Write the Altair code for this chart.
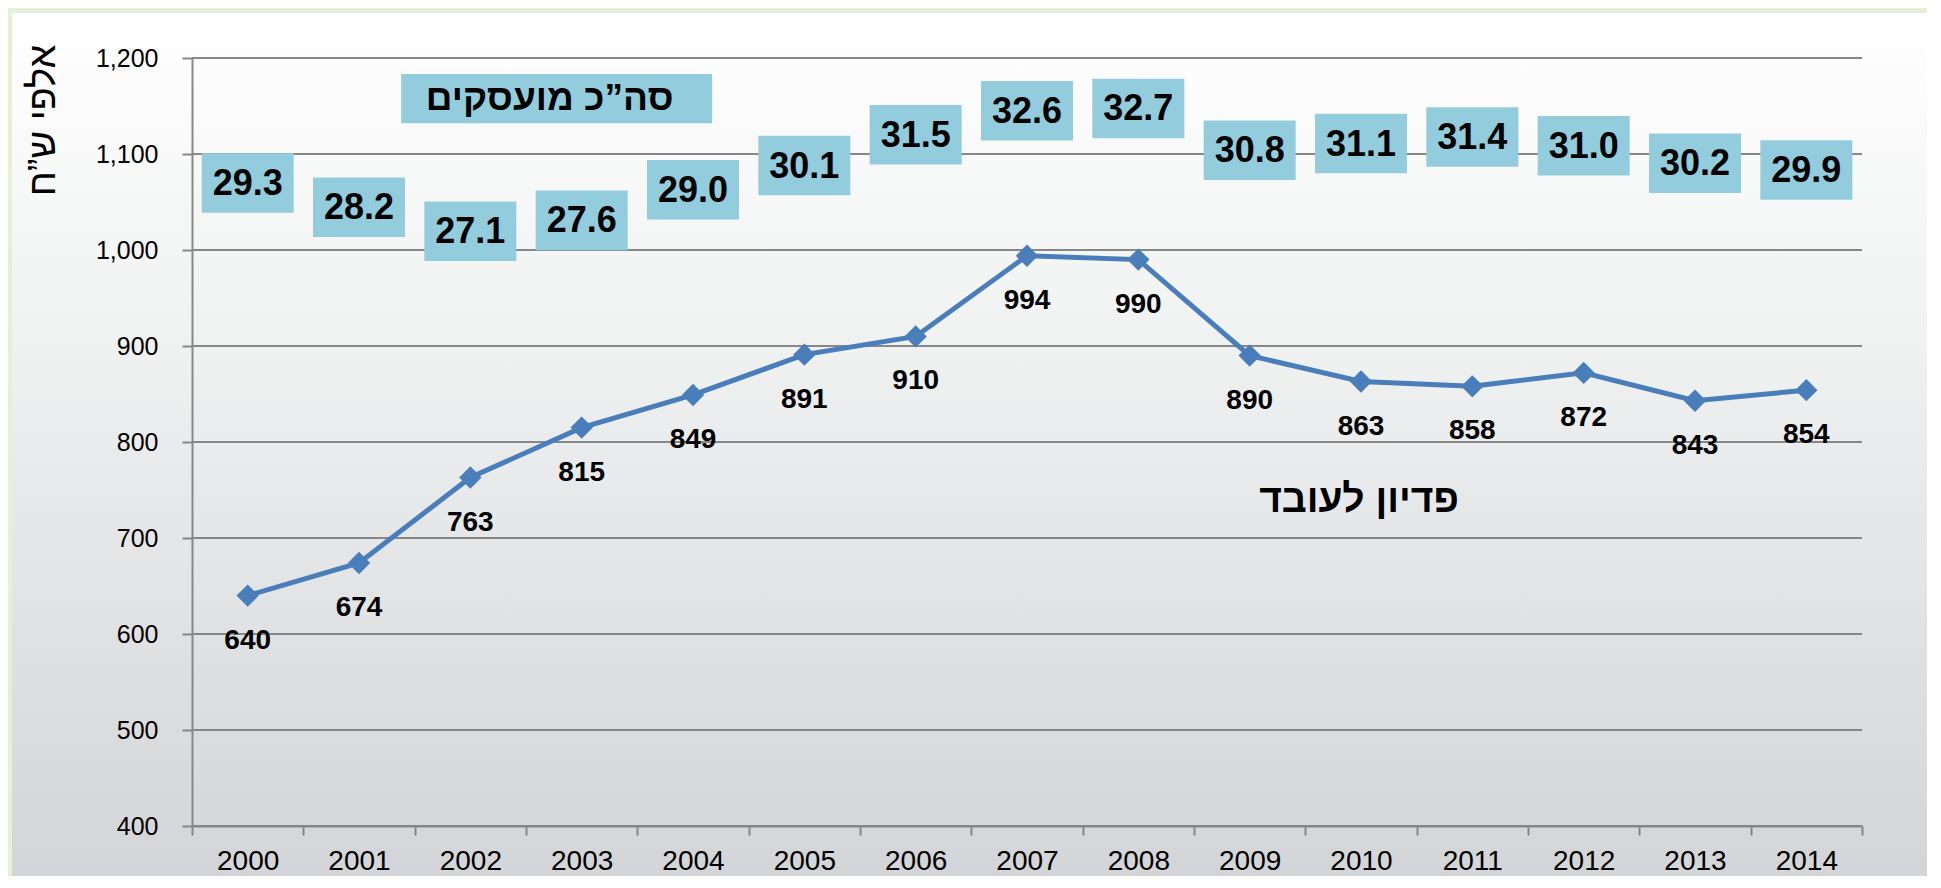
import altair as alt
import pandas as pd

# ---------------- data ----------------
years = [str(y) for y in range(2000, 2015)]
revenue_per_worker = [640, 674, 763, 815, 849, 891, 910, 994, 990, 890, 863, 858, 872, 843, 854]
total_employed = [29.3, 28.2, 27.1, 27.6, 29.0, 30.1, 31.5, 32.6, 32.7, 30.8, 31.1, 31.4, 31.0, 30.2, 29.9]
y_ticks = [400, 500, 600, 700, 800, 900, 1000, 1100, 1200]

y_title = "אלפי ש”ח"
employed_title = "סה”כ מועסקים"
revenue_title = "פדיון לעובד"

df = pd.DataFrame({
    "year": years,
    "revenue": revenue_per_worker,
    "employed": total_employed,
    "emp_label": [f"{v:.1f}" for v in total_employed],
})
grid_df = pd.DataFrame({"v": y_ticks})
emp_ann_df = pd.DataFrame({"year": ["2003"], "y": [1157.6], "text": [employed_title]})
rev_ann_df = pd.DataFrame({"year": ["2010"], "y": [742.7], "text": [revenue_title]})

# ---------------- layout ----------------
W, H = 1670, 768
FONT = "Liberation Sans"
BLUE = "#4a7ebb"
BOX = "#93cddd"
GRID = "#878787"

yscale = alt.Scale(domain=[400, 1200], nice=False, zero=False)
emp_scale = alt.Scale(domain=[0, 35], nice=False, zero=False)
xscale = alt.Scale(type="band", paddingInner=0, paddingOuter=0)

x_axis = alt.Axis(
    title=None, labelAngle=0, tickBand="extent", grid=False,
    labelFont=FONT, labelFontSize=28, labelColor="#000000", labelPadding=12,
    tickSize=9, tickColor=GRID, tickWidth=2, domainColor=GRID, domainWidth=2,
    zindex=1,
)
xenc = alt.X("year:N", sort=years, scale=xscale, axis=x_axis)

y_axis = alt.Axis(
    values=y_ticks, format=",.0f", grid=False,
    labelFont=FONT, labelFontSize=25, labelColor="#000000", labelPadding=24,
    tickSize=10, tickColor=GRID, tickWidth=2, domainColor=GRID, domainWidth=2,
    title=y_title, titleFont=FONT, titleFontSize=38, titleFontWeight="normal",
    titleColor="#000000", titleAngle=270, titleX=-149, titleY=62,
    titleAlign="center", titleBaseline="middle",
    zindex=1,
)

base = alt.Chart(df)

panel = alt.Chart(pd.DataFrame({"p": [0]})).mark_rect(
    color=alt.LinearGradient(
        gradient="linear",
        stops=[alt.GradientStop(color="#ffffff", offset=0),
               alt.GradientStop(color="#f1f2f2", offset=0.35),
               alt.GradientStop(color="#d3d4d7", offset=1)],
        x1=0, x2=0, y1=0, y2=1,
    )
).encode(
    x=alt.value(-180), x2=alt.value(W + 70),
    y=alt.value(-45), y2=alt.value(H + 60),
)

grid = alt.Chart(grid_df).mark_rule(color=GRID, strokeWidth=2).encode(
    y=alt.Y("v:Q", scale=yscale, axis=None)
)

line = base.mark_line(color=BLUE, strokeWidth=5).encode(
    x=xenc, y=alt.Y("revenue:Q", scale=yscale, axis=y_axis)
)
points = base.mark_point(shape="diamond", size=500, filled=True, opacity=1, color=BLUE).encode(
    x=xenc, y=alt.Y("revenue:Q", scale=yscale, axis=None)
)
rev_labels = base.mark_text(
    dy=45, font=FONT, fontSize=28, fontWeight="bold", color="#000000", baseline="middle"
).encode(
    x=xenc, y=alt.Y("revenue:Q", scale=yscale, axis=None), text="revenue:Q"
)

box_path = "M-1,-0.647H1V0.647H-1Z"
boxes = base.mark_point(shape=box_path, size=92 * 92, filled=True, opacity=1,
                        color=BOX, strokeWidth=0).encode(
    x=xenc, y=alt.Y("employed:Q", scale=emp_scale, axis=None)
)
box_text = base.mark_text(
    font=FONT, fontSize=36, fontWeight="bold", color="#000000", baseline="middle", dy=1
).encode(
    x=xenc, y=alt.Y("employed:Q", scale=emp_scale, axis=None), text="emp_label:N"
)

ann_box = alt.Chart(emp_ann_df).mark_point(
    shape="M-1,-0.1585H1V0.1585H-1Z", size=311 * 311, filled=True, opacity=1,
    color=BOX, strokeWidth=0, xOffset=-25,
).encode(x=xenc, y=alt.Y("y:Q", scale=yscale, axis=None))
emp_ann_text = alt.Chart(emp_ann_df).mark_text(
    font=FONT, fontSize=37, fontWeight="bold", color="#000000", baseline="middle", dx=-32,
).encode(x=xenc, y=alt.Y("y:Q", scale=yscale, axis=None), text="text:N")
rev_ann_text = alt.Chart(rev_ann_df).mark_text(
    font=FONT, fontSize=39, fontWeight="bold", color="#000000", baseline="middle", dx=-2, dy=3,
).encode(x=xenc, y=alt.Y("y:Q", scale=yscale, axis=None), text="text:N")

chart = alt.layer(
    panel, grid, line, points, rev_labels, boxes, box_text, ann_box, emp_ann_text, rev_ann_text
).resolve_scale(y="independent").properties(
    width=W, height=H,
    autosize=alt.AutoSizeParams(type="none"),
    padding={"left": 184, "top": 50, "right": 65, "bottom": 50},
    background="#e6f0d6",
).configure_view(stroke=None)

chart.save("out.html", embed_options={"renderer": "svg", "actions": False})
